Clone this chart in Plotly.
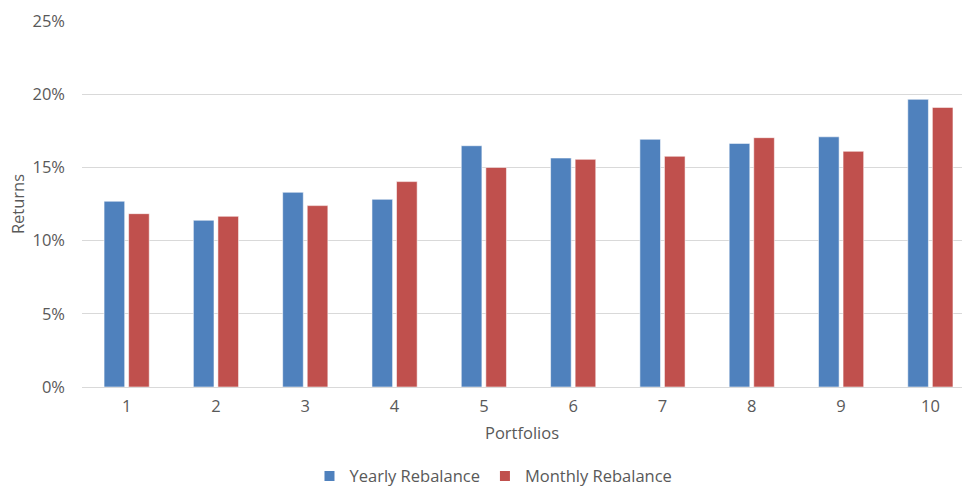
import plotly.graph_objects as go

# Average returns per portfolio under two rebalancing schedules
portfolios = [1, 2, 3, 4, 5, 6, 7, 8, 9, 10]
yearly_rebalance = [0.1269, 0.1139, 0.1330, 0.1282, 0.1648, 0.1564, 0.1692, 0.1664, 0.1709, 0.1965]
monthly_rebalance = [0.1184, 0.1166, 0.1239, 0.1403, 0.1500, 0.1555, 0.1576, 0.1703, 0.1610, 0.1910]
y_ticks = [0, 0.05, 0.10, 0.15, 0.20, 0.25]
y_tick_text = ["0%", "5%", "10%", "15%", "20%", "25%"]

BLUE = "#4F81BD"
RED = "#C0504D"
TEXT = "#595959"
GRID = "#D9D9D9"
FONT = "Open Sans, Noto Sans, sans-serif"
FS = 16.5

fig = go.Figure()
fig.add_trace(go.Bar(
    x=portfolios, y=yearly_rebalance, name="Yearly Rebalance",
    marker=dict(color=BLUE, line=dict(color="rgba(255,255,255,0.55)", width=1)),
    showlegend=False,
))
fig.add_trace(go.Bar(
    x=portfolios, y=monthly_rebalance, name="Monthly Rebalance",
    marker=dict(color=RED, line=dict(color="rgba(255,255,255,0.55)", width=1)),
    showlegend=False,
))
# Legend entries with small square swatches
for name, col in [("Yearly Rebalance", BLUE), ("Monthly Rebalance", RED)]:
    fig.add_trace(go.Scatter(
        x=[None], y=[None], mode="markers", name=name,
        marker=dict(symbol="square", size=10, color=col),
    ))

fig.update_layout(
    width=962, height=487,
    margin=dict(l=82, r=0, t=21, b=100, autoexpand=False),
    paper_bgcolor="white", plot_bgcolor="white",
    font=dict(family=FONT, size=FS, color=TEXT),
    barmode="group", bargap=0.45, bargroupgap=0.16,
    showlegend=True,
    legend=dict(
        orientation="h", x=0.4676, xanchor="center",
        yref="container", y=0.022, yanchor="middle",
        font=dict(size=FS, color=TEXT), itemwidth=30, traceorder="normal",
    ),
    xaxis=dict(
        range=[0.5, 10.354], tickvals=portfolios, ticktext=[str(p) for p in portfolios],
        showgrid=False, zeroline=False, showline=True, linecolor=GRID, linewidth=1,
        ticks="", ticklabelstandoff=4, tickfont=dict(size=FS),
        title=dict(text="Portfolios", standoff=11, font=dict(size=FS, color=TEXT)),
        fixedrange=True,
    ),
    yaxis=dict(
        range=[0, 0.25], tickvals=y_ticks, ticktext=y_tick_text,
        showgrid=True, gridcolor=GRID, gridwidth=1, zeroline=False, showline=False,
        ticks="", ticklabelstandoff=16, tickfont=dict(size=FS),
        title=dict(text="Returns", standoff=3, font=dict(size=FS, color=TEXT)),
        fixedrange=True,
    ),
)

fig.write_html("out.html", config={"displayModeBar": False})
